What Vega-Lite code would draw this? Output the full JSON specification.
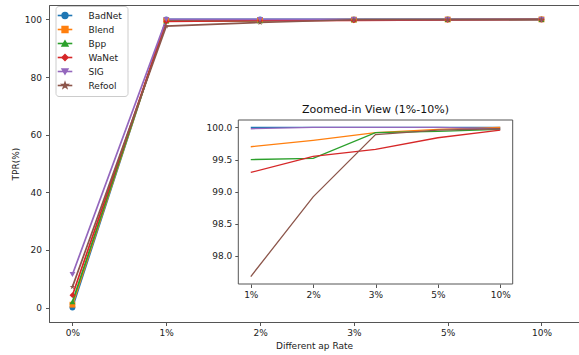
{
  "$schema": "https://vega.github.io/schema/vega-lite/v6.json",
  "width": 530,
  "height": 317,
  "autosize": {"type": "none"},
  "padding": {"left": 49, "top": 5, "right": 0, "bottom": 33},
  "background": "white",
  "config": {
    "font": "DejaVu Sans",
    "view": {"stroke": "#555", "strokeWidth": 1},
    "axis": {
      "grid": false,
      "domainColor": "#555",
      "tickColor": "#555",
      "tickSize": 3.5,
      "labelFontSize": 9,
      "labelColor": "#222",
      "titleFontSize": 9,
      "titleFontWeight": "normal",
      "titleColor": "#222"
    },
    "legend": {"labelFontSize": 9, "labelColor": "#222"}
  },
  "datasets": {
    "tpr": [
      {"attack": "BadNet", "rate": "0%", "tpr": 0},
      {"attack": "BadNet", "rate": "1%", "tpr": 100},
      {"attack": "BadNet", "rate": "2%", "tpr": 100},
      {"attack": "BadNet", "rate": "3%", "tpr": 100},
      {"attack": "BadNet", "rate": "5%", "tpr": 100},
      {"attack": "BadNet", "rate": "10%", "tpr": 100},
      {"attack": "Blend", "rate": "0%", "tpr": 1},
      {"attack": "Blend", "rate": "1%", "tpr": 99.7},
      {"attack": "Blend", "rate": "2%", "tpr": 99.8},
      {"attack": "Blend", "rate": "3%", "tpr": 99.92},
      {"attack": "Blend", "rate": "5%", "tpr": 99.97},
      {"attack": "Blend", "rate": "10%", "tpr": 100},
      {"attack": "Bpp", "rate": "0%", "tpr": 2},
      {"attack": "Bpp", "rate": "1%", "tpr": 99.5},
      {"attack": "Bpp", "rate": "2%", "tpr": 99.52},
      {"attack": "Bpp", "rate": "3%", "tpr": 99.92},
      {"attack": "Bpp", "rate": "5%", "tpr": 99.94},
      {"attack": "Bpp", "rate": "10%", "tpr": 99.97},
      {"attack": "WaNet", "rate": "0%", "tpr": 4.3},
      {"attack": "WaNet", "rate": "1%", "tpr": 99.3},
      {"attack": "WaNet", "rate": "2%", "tpr": 99.55},
      {"attack": "WaNet", "rate": "3%", "tpr": 99.66},
      {"attack": "WaNet", "rate": "5%", "tpr": 99.84},
      {"attack": "WaNet", "rate": "10%", "tpr": 99.96},
      {"attack": "SIG", "rate": "0%", "tpr": 11.5},
      {"attack": "SIG", "rate": "1%", "tpr": 99.98},
      {"attack": "SIG", "rate": "2%", "tpr": 100},
      {"attack": "SIG", "rate": "3%", "tpr": 100},
      {"attack": "SIG", "rate": "5%", "tpr": 100},
      {"attack": "SIG", "rate": "10%", "tpr": 99.98},
      {"attack": "Refool", "rate": "0%", "tpr": 7.2},
      {"attack": "Refool", "rate": "1%", "tpr": 97.68},
      {"attack": "Refool", "rate": "2%", "tpr": 98.92},
      {"attack": "Refool", "rate": "3%", "tpr": 99.89},
      {"attack": "Refool", "rate": "5%", "tpr": 99.96},
      {"attack": "Refool", "rate": "10%", "tpr": 99.98}
    ]
  },
  "layer": [
    {
      "data": {"name": "tpr"},
      "transform": [
        {"calculate": "indexof(['0%','1%','2%','3%','5%','10%'], datum.rate)", "as": "pos"}
      ],
      "encoding": {
        "x": {
          "field": "pos", "type": "quantitative",
          "scale": {"domain": [-0.25, 5.4], "nice": false, "zero": false},
          "axis": {
            "values": [0, 1, 2, 3, 4, 5],
            "labelExpr": "['0%','1%','2%','3%','5%','10%'][datum.value]",
            "title": "Different ap Rate",
            "labelPadding": 3,
            "titlePadding": 4
          }
        },
        "y": {
          "field": "tpr", "type": "quantitative",
          "scale": {"domain": [-5, 105], "nice": false, "zero": false},
          "axis": {
            "values": [0, 20, 40, 60, 80, 100],
            "title": "TPR(%)",
            "labelPadding": 4,
            "titlePadding": 4
          }
        },
        "color": {
          "field": "attack", "type": "nominal",
          "scale": {
            "domain": ["BadNet", "Blend", "Bpp", "WaNet", "SIG", "Refool"],
            "range": ["#1f77b4", "#ff7f0e", "#2ca02c", "#d62728", "#9467bd", "#8c564b"]
          },
          "legend": {
            "title": null,
            "orient": "none",
            "legendX": 6.5,
            "legendY": 1,
            "symbolSize": 34,
            "symbolOpacity": 1,
            "labelOffset": 19,
            "padding": 5,
            "rowPadding": 1,
            "strokeColor": "#cccccc",
            "cornerRadius": 3
          }
        }
      },
      "layer": [
        {
          "mark": {"type": "line", "strokeWidth": 1.7}
        },
        {
          "mark": {"type": "point", "filled": true, "opacity": 1, "size": 34},
          "encoding": {
            "shape": {
              "field": "attack", "type": "nominal",
              "scale": {
                "domain": ["BadNet", "Blend", "Bpp", "WaNet", "SIG", "Refool"],
                "range": ["circle", "square", "triangle-up", "diamond", "triangle-down", "M0,-1L0.2245,-0.309L0.951,-0.309L0.363,0.118L0.588,0.809L0,0.382L-0.588,0.809L-0.363,0.118L-0.951,-0.309L-0.2245,-0.309Z"]
              },
              "legend": {
                "title": null,
                "orient": "none",
                "legendX": 6.5,
                "legendY": 1,
                "symbolSize": 34,
                "labelOffset": 19,
                "padding": 5,
                "rowPadding": 1,
                "strokeColor": "#cccccc",
                "cornerRadius": 3
              }
            }
          }
        }
      ]
    },
    {
      "layer": [
        {
          "data": {"values": [{}]},
          "mark": {"type": "rect", "fill": "white", "stroke": "#555", "strokeWidth": 1},
          "encoding": {
            "x": {"datum": -0.2, "type": "quantitative"},
            "x2": {"datum": 4.2},
            "y": {"datum": 97.564, "type": "quantitative"},
            "y2": {"datum": 100.116}
          }
        },
        {
          "data": {"values": [{}]},
          "mark": {"type": "text", "fontSize": 11, "color": "#111", "baseline": "middle", "align": "center"},
          "encoding": {
            "x": {"datum": 2, "type": "quantitative"},
            "y": {"datum": 100.27, "type": "quantitative"},
            "text": {"value": "Zoomed-in View (1%-10%)"}
          }
        },
        {
          "data": {"name": "tpr"},
          "transform": [
            {"filter": "datum.rate != '0%'"},
            {"calculate": "indexof(['1%','2%','3%','5%','10%'], datum.rate)", "as": "pos"}
          ],
          "mark": {"type": "line", "strokeWidth": 1.3},
          "encoding": {
            "x": {"field": "pos", "type": "quantitative"},
            "y": {"field": "tpr", "type": "quantitative"},
            "stroke": {
              "field": "attack", "type": "nominal",
              "scale": {
                "domain": ["BadNet", "Blend", "Bpp", "WaNet", "SIG", "Refool", "~"],
                "range": ["#1f77b4", "#ff7f0e", "#2ca02c", "#d62728", "#9467bd", "#8c564b", "#000000"]
              },
              "legend": {
                "title": null,
                "orient": "none",
                "legendX": 6.5,
                "legendY": 1,
                "values": ["BadNet", "Blend", "Bpp", "WaNet", "SIG", "Refool"],
                "symbolType": "M-2.5,0H2.5M0,-1L0,-1M0,1L0,1",
                "symbolSize": 34,
                "symbolStrokeWidth": 1.6,
                "labelOffset": 19,
                "labelColor": "rgba(0,0,0,0)",
                "labelOpacity": 0,
                "padding": 5,
                "rowPadding": 1
              }
            }
          }
        }
      ],
      "encoding": {
        "x": {
          "type": "quantitative",
          "scale": {"domain": [-0.2, 4.2], "range": [189.3, 463.7], "nice": false, "zero": false},
          "axis": {
            "orient": "bottom",
            "offset": -38,
            "values": [0, 1, 2, 3, 4],
            "labelExpr": "['1%','2%','3%','5%','10%'][datum.value]",
            "title": null,
            "domain": false,
            "labelPadding": 3
          }
        },
        "y": {
          "type": "quantitative",
          "scale": {"domain": [97.564, 100.116], "range": [279, 115], "nice": false, "zero": false},
          "axis": {
            "orient": "left",
            "offset": -189.3,
            "values": [98, 98.5, 99, 99.5, 100],
            "format": ".1f",
            "title": null,
            "domain": false,
            "labelPadding": 3
          }
        }
      }
    }
  ],
  "resolve": {
    "scale": {"x": "independent", "y": "independent"},
    "axis": {"x": "independent", "y": "independent"}
  }
}
